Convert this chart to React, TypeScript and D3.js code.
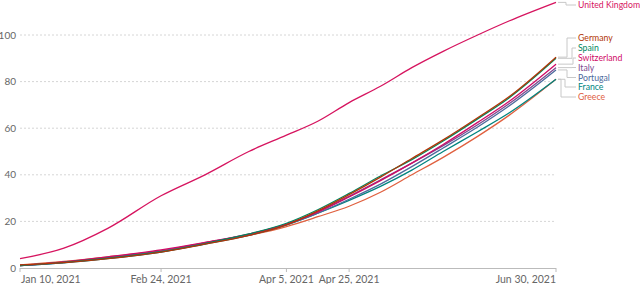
import React from 'react';
import { scaleTime, scaleLinear, line, curveMonotoneX } from 'd3';

const dates = [
  '2021-01-10', '2021-01-24', '2021-02-07', '2021-02-24', '2021-03-10',
  '2021-03-24', '2021-04-05', '2021-04-15', '2021-04-25', '2021-05-05',
  '2021-05-15', '2021-05-25', '2021-06-05', '2021-06-15', '2021-06-30',
];

const countries = ['Greece', 'France', 'Portugal', 'Italy', 'Switzerland', 'Spain', 'Germany', 'United Kingdom'];
const colors = ['#e0603f', '#00847e', '#4c6a9c', '#7d4a8f', '#cf0a66', '#00875e', '#b13507', '#d6145f'];

const greece = [1.3, 2.8, 4.8, 7.4, 10.8, 14.0, 17.8, 22.0, 26.5, 32.5, 40.0, 47.5, 56.5, 65.5, 81.0];
const france = [1.0, 2.2, 4.0, 6.8, 10.3, 14.0, 18.5, 23.5, 29.0, 35.0, 42.0, 50.0, 58.5, 66.5, 81.0];
const portugal = [1.0, 2.3, 4.2, 7.0, 10.5, 14.2, 18.5, 23.5, 29.5, 36.0, 43.5, 51.5, 60.5, 69.5, 85.0];
const italy = [1.1, 2.5, 4.5, 7.2, 10.8, 14.4, 18.8, 24.2, 30.8, 37.8, 45.0, 52.5, 61.5, 70.5, 86.0];
const switzerland = [1.0, 2.6, 4.8, 7.8, 11.0, 14.5, 18.8, 24.0, 30.5, 37.5, 45.0, 53.0, 62.5, 71.5, 87.5];
const spain = [1.0, 2.4, 4.2, 7.0, 10.5, 14.6, 19.2, 25.0, 32.0, 39.5, 46.5, 54.5, 64.0, 73.0, 90.0];
const germany = [1.3, 2.3, 4.0, 6.8, 10.2, 14.0, 18.5, 24.5, 31.5, 39.0, 47.0, 55.0, 64.5, 73.5, 90.5];
const uk = [4.0, 8.5, 17.0, 31.0, 40.0, 50.0, 57.0, 63.0, 71.0, 78.0, 86.0, 93.0, 100.0, 106.0, 114.0];
const series = [greece, france, portugal, italy, switzerland, spain, germany, uk];

// where the labels sit on the right and the x of each bracket's elbow
const labelY = [97, 87, 77.5, 67.5, 58, 48, 38, 5];
const elbowX = [561, 565, 567, 572, 573, 572, 567, 566];

const yTicks = [0, 20, 40, 60, 80, 100];
const xTicks = ['2021-01-10', '2021-02-24', '2021-04-05', '2021-04-25', '2021-06-30'];
const xTickLabels = ['Jan 10, 2021', 'Feb 24, 2021', 'Apr 5, 2021', 'Apr 25, 2021', 'Jun 30, 2021'];

const width = 640;
const height = 284;
const font = 'Lato, "Noto Sans", sans-serif';

export default function App() {
  const x = scaleTime()
    .domain([new Date(dates[0]), new Date(dates[dates.length - 1])])
    .range([20, 556]);
  const y = scaleLinear().domain([0, 100]).range([268, 35]);

  const path = line<number>()
    .x((_, i) => x(new Date(dates[i])))
    .y(d => y(d))
    .curve(curveMonotoneX);

  return (
    <svg width={width} height={height} style={{ position: 'absolute', left: 0, top: 0 }} fontFamily={font}>
      {/* grid */}
      {yTicks.map(t => (
        <g key={t}>
          {t > 0 && (
            <line x1={20} x2={556} y1={y(t)} y2={y(t)} stroke="#d6d6d6" strokeDasharray="2,2" />
          )}
          <text x={16} y={y(t)} dy="0.35em" textAnchor="end" fontSize={10} fill="#666">{t}</text>
        </g>
      ))}

      {/* x axis */}
      <line x1={20} x2={556} y1={268.5} y2={268.5} stroke="#bbb" />
      {xTicks.map((t, i) => {
        const px = x(new Date(t));
        const anchor = i === 0 ? 'start' : i === xTicks.length - 1 ? 'end' : 'middle';
        return (
          <g key={t}>
            <line x1={px} x2={px} y1={268} y2={272} stroke="#bbb" />
            <text x={i === 0 ? px + 1 : px} y={283} textAnchor={anchor} fontSize={10.5} fill="#666">
              {xTickLabels[i]}
            </text>
          </g>
        );
      })}

      {/* lines */}
      {series.map((s, i) => (
        <path key={countries[i]} d={path(s) || ''} fill="none" stroke={colors[i]} strokeWidth={1.3} />
      ))}

      {/* label brackets */}
      {series.map((s, i) => {
        const ey = y(s[s.length - 1]);
        const ly = labelY[i];
        const ex = elbowX[i];
        return (
          <path
            key={'c' + countries[i]}
            d={`M558,${ey}H${ex}V${ly}H576`}
            fill="none"
            stroke="#c8c8c8"
            strokeWidth={1}
          />
        );
      })}
      {countries.map((c, i) => (
        <text key={'l' + c} x={578} y={labelY[i]} dy="0.35em" fontSize={8.7} fill={colors[i]}>{c}</text>
      ))}
    </svg>
  );
}
